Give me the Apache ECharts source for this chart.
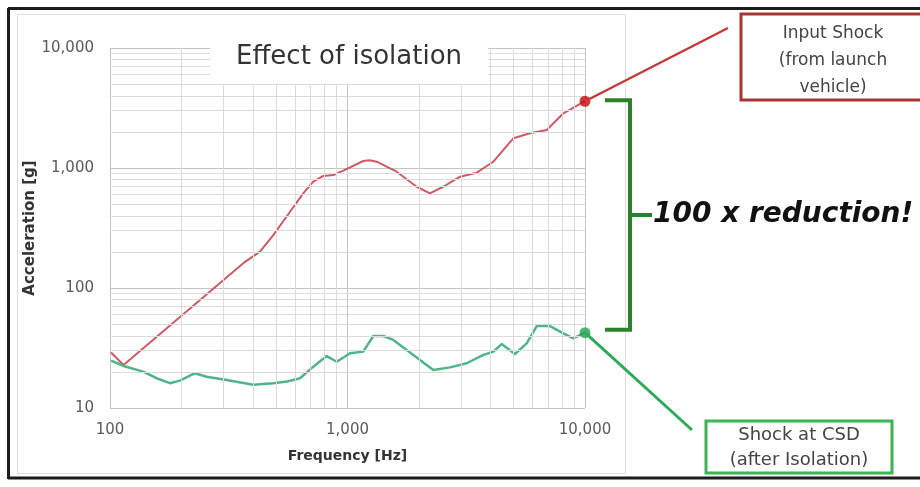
<!DOCTYPE html>
<html>
<head>
<meta charset="utf-8">
<title>Effect of isolation</title>
<script src="https://cdn.jsdelivr.net/npm/echarts@6/dist/echarts.min.js"></script>
<style>
  html, body { margin: 0; padding: 0; background: #fff; }
  #chart { width: 920px; height: 487px; }
</style>
</head>
<body>
<div id="chart"></div>
<script>
// Shock response spectra: input shock vs. shock after the isolation stage
const inputFreq  = [101, 114, 364, 428, 487, 573, 651, 718, 791, 871, 960, 1165, 1240, 1327, 1611, 1955, 2224, 2531, 2977, 3499, 4112, 4991, 5862, 6897, 8110, 10000];
const inputAccel = [29, 22.8, 161, 201, 276, 432, 615, 769, 858, 874, 950, 1144, 1160, 1128, 931, 698, 615, 698, 846, 914, 1128, 1768, 1946, 2073, 2856, 3600];

const csdFreq  = [101, 114, 138, 157, 179, 197, 228, 255, 310, 401, 487, 555, 631, 718, 817, 901, 1025, 1165, 1284, 1415, 1560, 1893, 2297, 2702, 3175, 3733, 4112, 4457, 5070, 5682, 6262, 7121, 8110, 8933, 10000];
const csdAccel = [24.8, 22.4, 20.1, 17.7, 16.1, 16.9, 19.5, 18.2, 17.1, 15.6, 16.1, 16.6, 17.7, 22.1, 27.1, 24.3, 28.6, 29.5, 39.8, 39.8, 36.9, 27.7, 20.7, 21.8, 23.6, 27.7, 29.5, 34.1, 28.2, 34.6, 48.2, 48.2, 41.9, 38.1, 42.4];

const xTickValues = [100, 1000, 10000];
const xTickLabels = ['100', '1,000', '10,000'];
const yTickValues = [10, 100, 1000, 10000];
const yTickLabels = ['10', '100', '1,000', '10,000'];

const FONT = 'DejaVu Sans';

function pairs(xs, ys) { return xs.map((x, i) => [x, ys[i]]); }
function tickLabel(values, labels) {
  return v => {
    const i = values.indexOf(Math.round(v));
    return i >= 0 ? labels[i] : '';
  };
}

// Minor log grid lines (2..9 within each decade)
const minorLines = [];
for (let d = 100; d < 10000; d *= 10) {
  for (let k = 2; k <= 9; k++) minorLines.push({ xAxis: k * d });
}
for (let d = 10; d < 10000; d *= 10) {
  for (let k = 2; k <= 9; k++) minorLines.push({ yAxis: k * d });
}

const chart = echarts.init(document.getElementById('chart'), null, { renderer: 'canvas' });

chart.setOption({
  animation: false,
  backgroundColor: '#ffffff',
  title: {
    text: 'Effect of isolation',
    left: 210,
    top: 38,
    padding: [6, 26, 14, 26],
    backgroundColor: '#ffffff',
    textStyle: { fontFamily: FONT, fontWeight: 'normal', fontSize: 26, color: '#333333' }
  },
  grid: { left: 110, right: 335, top: 48, bottom: 79 },
  xAxis: {
    type: 'log',
    logBase: 10,
    min: 100,
    max: 10000,
    name: 'Frequency [Hz]',
    nameLocation: 'middle',
    nameGap: 41,
    nameMoveOverlap: false,
    nameTextStyle: { fontFamily: FONT, fontWeight: 'bold', fontSize: 14, color: '#333333' },
    axisLine: { show: false },
    axisTick: { show: false },
    axisLabel: {
      fontFamily: FONT, fontSize: 15, color: '#5a5a5a', margin: 15,
      formatter: tickLabel(xTickValues, xTickLabels)
    },
    splitLine: { show: true, lineStyle: { color: '#c4c4c4', width: 1 } }
  },
  yAxis: {
    type: 'log',
    logBase: 10,
    min: 10,
    max: 10000,
    name: 'Acceleration [g]',
    nameLocation: 'middle',
    nameRotate: 90,
    nameGap: 72,
    nameMoveOverlap: false,
    nameTextStyle: { fontFamily: FONT, fontWeight: 'bold', fontSize: 15, color: '#333333' },
    axisLine: { show: false },
    axisTick: { show: false },
    axisLabel: {
      fontFamily: FONT, fontSize: 15, color: '#5a5a5a', margin: 16,
      formatter: tickLabel(yTickValues, yTickLabels)
    },
    splitLine: { show: true, lineStyle: { color: '#c4c4c4', width: 1 } }
  },
  series: [
    {
      name: 'grid',
      type: 'line',
      data: [],
      silent: true,
      z: 1,
      markLine: {
        silent: true,
        symbol: ['none', 'none'],
        label: { show: false },
        lineStyle: { color: '#dcdcdc', type: 'solid', width: 1 },
        emphasis: { disabled: true },
        data: minorLines
      }
    },
    {
      name: 'Input Shock',
      type: 'line',
      data: pairs(inputFreq, inputAccel),
      smooth: false,
      showSymbol: false,
      z: 3,
      lineStyle: { color: '#cc5b66', width: 2, join: 'round' }
    },
    {
      name: 'Shock at CSD',
      type: 'line',
      data: pairs(csdFreq, csdAccel),
      smooth: false,
      showSymbol: false,
      z: 3,
      lineStyle: { color: '#4fb489', width: 2.5, join: 'round' }
    },
    {
      name: 'end points',
      type: 'scatter',
      z: 5,
      symbolSize: 11,
      data: [
        { value: [inputFreq[inputFreq.length - 1], inputAccel[inputAccel.length - 1]], itemStyle: { color: '#c00a0a' } },
        { value: [csdFreq[csdFreq.length - 1], csdAccel[csdAccel.length - 1]], itemStyle: { color: '#1ea84a' } }
      ]
    }
  ]
});

// Annotations anchored to the end points of both spectra
const pIn  = chart.convertToPixel({ gridIndex: 0 }, [inputFreq[inputFreq.length - 1], inputAccel[inputAccel.length - 1]]);
const pCsd = chart.convertToPixel({ gridIndex: 0 }, [csdFreq[csdFreq.length - 1], csdAccel[csdAccel.length - 1]]);
const bTop = pIn[1] - 1, bBot = pCsd[1] - 3, bMid = (bTop + bBot) / 2;
const bx0 = 605, bx1 = 630;

function txt(x, y, text, opts) {
  return {
    type: 'text', x: x, y: y, z: 20,
    style: Object.assign({
      text: text,
      fontFamily: FONT,
      fill: '#444444',
      align: 'center', verticalAlign: 'middle',
      textAlign: 'center', textVerticalAlign: 'middle'
    }, opts)
  };
}

chart.setOption({
  graphic: [
    // outer frame
    { type: 'line', z: 30, shape: { x1: 8, y1: 8.5, x2: 920, y2: 8.5 }, style: { stroke: '#1c1c1c', lineWidth: 3 } },
    { type: 'line', z: 30, shape: { x1: 8.5, y1: 8, x2: 8.5, y2: 479 }, style: { stroke: '#1c1c1c', lineWidth: 3 } },
    { type: 'line', z: 30, shape: { x1: 8, y1: 478, x2: 920, y2: 478 }, style: { stroke: '#1c1c1c', lineWidth: 3 } },
    // chart area border
    { type: 'rect', z: 0, shape: { x: 17.5, y: 14.5, width: 608, height: 459 }, style: { fill: 'none', stroke: '#dedede', lineWidth: 1 } },
    // input shock callout
    { type: 'line', z: 10, shape: { x1: pIn[0], y1: pIn[1], x2: 728, y2: 28 }, style: { stroke: '#c23a3a', lineWidth: 2.5 } },
    { type: 'rect', z: 15, shape: { x: 741, y: 14, width: 200, height: 86 }, style: { fill: '#ffffff', stroke: '#a83434', lineWidth: 3 } },
    txt(833, 61, 'Input Shock\n(from launch\nvehicle)', { fontSize: 17, lineHeight: 27 }),
    // isolated shock callout
    { type: 'line', z: 10, shape: { x1: pCsd[0], y1: pCsd[1], x2: 692, y2: 430 }, style: { stroke: '#2eaa5c', lineWidth: 3 } },
    { type: 'rect', z: 15, shape: { x: 706, y: 421, width: 186, height: 52 }, style: { fill: '#ffffff', stroke: '#3cb454', lineWidth: 3 } },
    txt(799, 447.5, 'Shock at CSD\n(after Isolation)', { fontSize: 18, lineHeight: 25 }),
    // reduction bracket
    { type: 'polyline', z: 10, shape: { points: [[bx0, bTop], [bx1, bTop], [bx1, bBot], [bx0, bBot]] }, style: { fill: 'none', stroke: '#2a822a', lineWidth: 4 } },
    { type: 'line', z: 10, shape: { x1: bx1, y1: bMid, x2: 652, y2: bMid }, style: { stroke: '#2a822a', lineWidth: 4 } },
    txt(653, bMid, '100 x reduction!', { fontSize: 28, fontWeight: 'bold', fontStyle: 'italic', fill: '#111111', align: 'left', textAlign: 'left' })
  ]
});
</script>
</body>
</html>
